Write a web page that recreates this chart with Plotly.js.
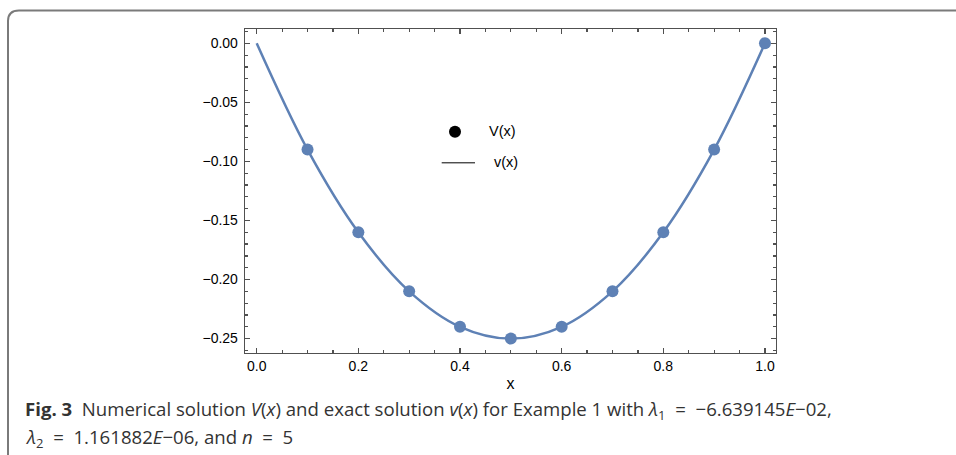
<!DOCTYPE html>
<html>
<head>
<meta charset="utf-8">
<script src="https://cdn.plot.ly/plotly-3.0.1.min.js"></script>
<style>html,body{margin:0;padding:0;background:#fff;}#chart{width:956px;height:455px;}</style>
</head>
<body>
<div id="chart"></div>
<script>
// ---- data ----
const xExact = [0, 0.1, 0.2, 0.3, 0.4, 0.5, 0.6, 0.7, 0.8, 0.9, 1.0];
const vExact = [0, -0.09, -0.16, -0.21, -0.24, -0.25, -0.24, -0.21, -0.16, -0.09, 0];
const xNum = [0.1, 0.2, 0.3, 0.4, 0.5, 0.6, 0.7, 0.8, 0.9, 1.0];
const VNum = [-0.09, -0.16, -0.21, -0.24, -0.25, -0.24, -0.21, -0.16, -0.09, 0];
const legendLabels = ['V(x)', 'v(x)'];
const xAxisTitle = 'x';
const captionLine1 = '<b>Fig. 3</b>\u00a0\u00a0Numerical solution <i>V</i>(<i>x</i>) and exact solution <i>v</i>(<i>x</i>) for Example 1 with <i>λ</i><sub>1</sub>\u00a0\u00a0=\u00a0\u00a0−6.639145<i>E</i>−02,';
const captionLine2 = '<i>λ</i><sub>2</sub>\u00a0\u00a0=\u00a0\u00a01.161882<i>E</i>−06, and <i>n</i>\u00a0\u00a0=\u00a0\u00a05';

// ---- layout geometry (pixels) ----
const W = 956, H = 455;
const L = 245, R = 776, T = 29, B = 352.7;
const px = v => (v - L) / (R - L);
const py = v => (B - v) / (B - T);

const blue = '#5E81B5';
const frame = '#505050';
const sans = 'Liberation Sans, Arial, sans-serif';

const traces = [
  {x: xExact, y: vExact, mode: 'lines', line: {color: blue, width: 2.5, shape: 'spline', smoothing: 1}, showlegend: false, hoverinfo: 'skip'},
  {x: xNum, y: VNum, mode: 'markers', marker: {color: blue, size: 12}, showlegend: false}
];

const axisCommon = {
  showgrid: false, zeroline: false, showline: true, linecolor: frame, linewidth: 1.3,
  mirror: 'ticks', ticks: 'inside', ticklen: 5, tickwidth: 1.2, tickcolor: frame,
  tickfont: {family: sans, size: 14, color: '#000'}
};

const border = 'M ' + px(8) + ',' + py(460) + ' L ' + px(8) + ',' + py(21) +
  ' Q ' + px(8) + ',' + py(10.5) + ' ' + px(19) + ',' + py(10.5) + ' L ' + px(960) + ',' + py(10.5);

const layout = {
  width: W, height: H,
  margin: {l: L, r: W - R, t: T, b: H - B},
  paper_bgcolor: '#fff', plot_bgcolor: '#fff',
  showlegend: false,
  xaxis: Object.assign({}, axisCommon, {
    range: [-0.023, 1.0217], tickvals: [0, 0.2, 0.4, 0.6, 0.8, 1.0], tickformat: '.1f',
    minor: {dtick: 0.05, tick0: 0, ticks: 'inside', ticklen: 3, tickcolor: frame, tickwidth: 1.2},
    title: {text: xAxisTitle, font: {family: sans, size: 16, color: '#000'}, standoff: 4}
  }),
  yaxis: Object.assign({}, axisCommon, {
    range: [-0.2622, 0.0121], tickvals: [0, -0.05, -0.1, -0.15, -0.2, -0.25], tickformat: '.2f',
    minor: {dtick: 0.01, tick0: 0, ticks: 'inside', ticklen: 3, tickcolor: frame, tickwidth: 1.2},
    ticklabelstandoff: 3
  }),
  shapes: [
    {type: 'path', xref: 'paper', yref: 'paper', path: border, line: {color: '#7a7a7a', width: 2}},
    {type: 'circle', xref: 'paper', yref: 'paper', x0: px(449), x1: px(461), y0: py(125.7), y1: py(137.7), fillcolor: '#000', line: {width: 0}},
    {type: 'line', xref: 'paper', yref: 'paper', x0: px(441.7), x1: px(475), y0: py(162.7), y1: py(162.7), line: {color: '#000', width: 1}}
  ],
  annotations: [
    {xref: 'paper', yref: 'paper', x: px(487), y: py(131), xanchor: 'left', yanchor: 'middle', showarrow: false, text: legendLabels[0], font: {family: sans, size: 14.5, color: '#000'}},
    {xref: 'paper', yref: 'paper', x: px(492), y: py(162), xanchor: 'left', yanchor: 'middle', showarrow: false, text: legendLabels[1], font: {family: sans, size: 14.5, color: '#000'}},
    {xref: 'paper', yref: 'paper', x: px(23), y: py(410), xanchor: 'left', yanchor: 'middle', showarrow: false, align: 'left', text: captionLine1, font: {family: 'Open Sans, Noto Sans, sans-serif', size: 18.6, color: '#333'}},
    {xref: 'paper', yref: 'paper', x: px(23), y: py(438), xanchor: 'left', yanchor: 'middle', showarrow: false, align: 'left', text: captionLine2, font: {family: 'Open Sans, Noto Sans, sans-serif', size: 18.6, color: '#333'}}
  ]
};

Plotly.newPlot('chart', traces, layout, {displayModeBar: false, staticPlot: true});
</script>
</body>
</html>
